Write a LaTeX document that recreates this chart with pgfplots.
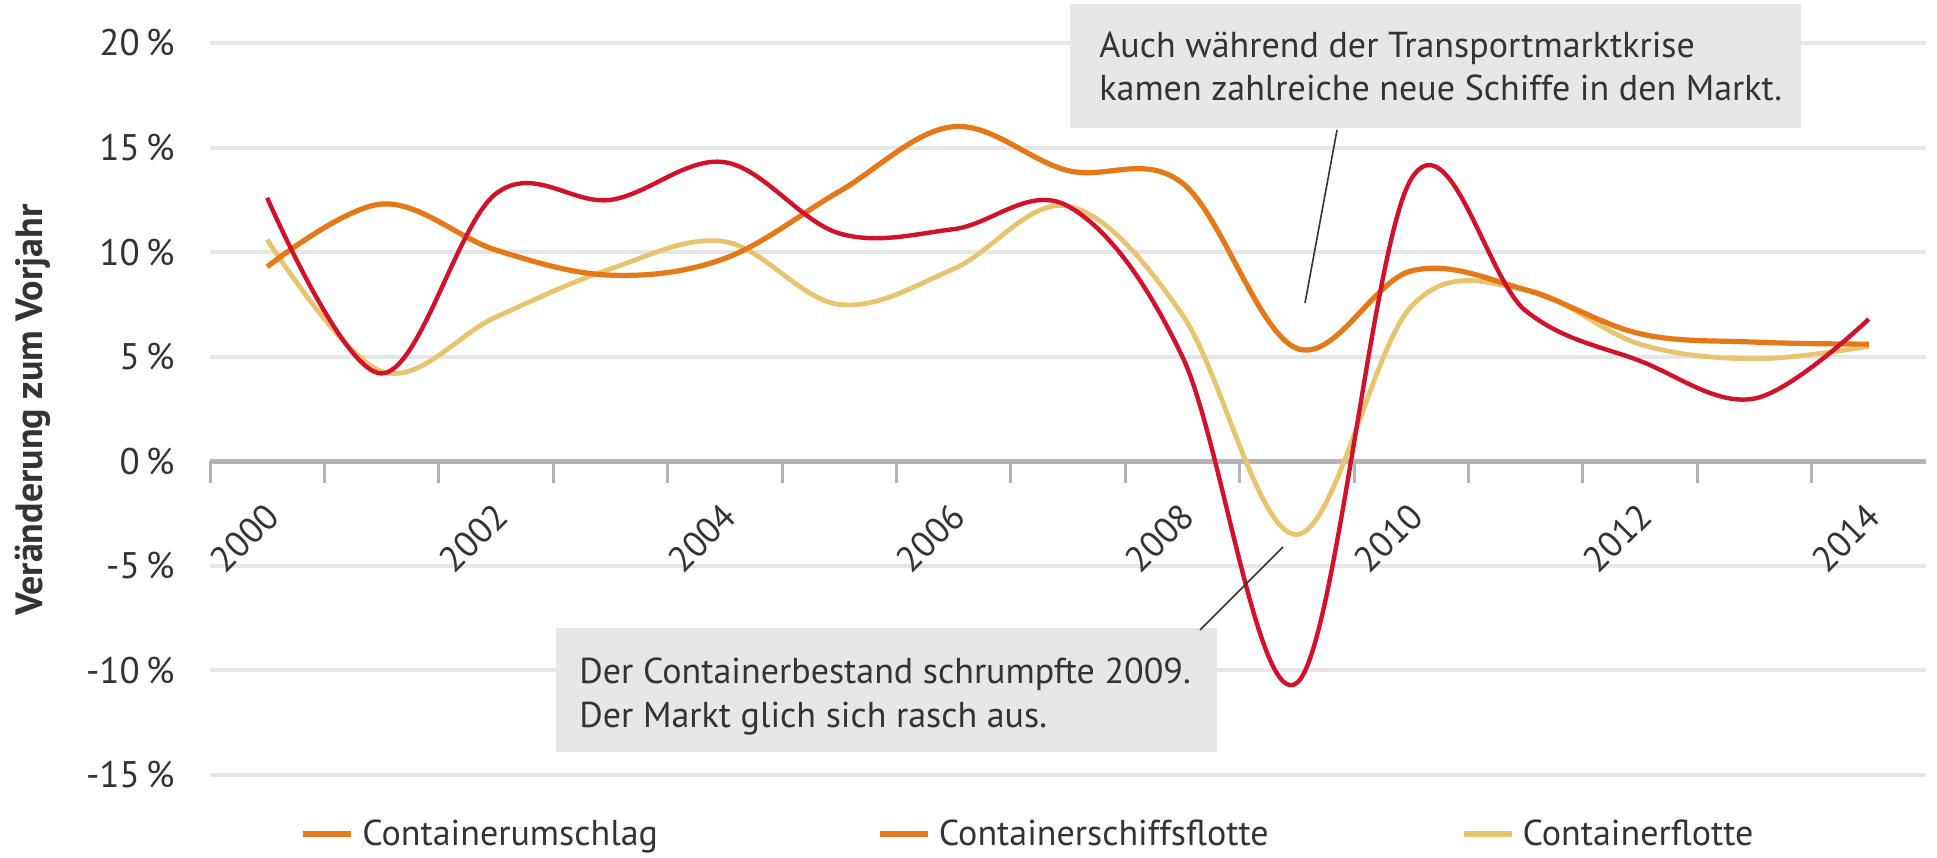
\documentclass[border=0pt]{standalone}
\usepackage{pgfplots}
\pgfplotsset{compat=1.18}
\usepackage{pgfplotstable}
\usepackage{fontspec}
\setmainfont{PT Sans}
\definecolor{cRed}{HTML}{D3112B}
\definecolor{cOrange}{HTML}{E77817}
\definecolor{cYellow}{HTML}{E8C46E}
\definecolor{cGrid}{HTML}{E6E6E6}
\definecolor{cAxis}{HTML}{B4B4B4}
\definecolor{cText}{HTML}{333333}
\definecolor{cBox}{HTML}{E7E7E7}

\pgfplotstableread{
year umschlag schiffsflotte flotte
2000 12.6 9.3 10.6
2001 4.2 12.3 4.3
2002 12.8 10.1 6.9
2003 12.5 8.9 9.2
2004 14.3 9.7 10.5
2005 10.9 12.9 7.5
2006 11.1 16.0 9.2
2007 12.2 13.9 12.2
2008 5.0 13.3 7.0
2009 -10.6 5.4 -3.5
2010 13.5 9.1 7.4
2011 7.2 8.2 8.2
2012 4.8 6.1 5.6
2013 3.0 5.7 4.9
2014 6.8 5.6 5.5
}\datatable

\begin{document}
\begin{tikzpicture}[x=0.5pt,y=-0.5pt]
\useasboundingbox (0,0) rectangle (1937,857);
\begin{axis}[
  at={(105pt,-387.5pt)}, anchor=south west,
  scale only axis, width=858pt, height=366pt,
  xmin=1999.5, xmax=2014.5, ymin=-15, ymax=20,
  axis x line=middle, axis y line=left,
  x axis line style={cAxis, line width=2.5pt, -},
  y axis line style={draw=none},
  ytick={-15,-10,-5,0,5,10,15,20},
  yticklabels={-15\,\%,-10\,\%,-5\,\%,0\,\%,5\,\%,10\,\%,15\,\%,20\,\%},
  ymajorgrids, grid style={cGrid, line width=2pt},
  ytick style={draw=none},
  xtick={2000,2002,2004,2006,2008,2010,2012,2014},
  xticklabels={2000,2002,2004,2006,2008,2010,2012,2014},
  major x tick style={draw=none},
  minor xtick={1999.5,2000.5,2001.5,2002.5,2003.5,2004.5,2005.5,2006.5,2007.5,2008.5,2009.5,2010.5,2011.5,2012.5,2013.5},
  minor x tick style={cAxis, line width=1.5pt},
  minor tick length=11pt,
  tick align=outside,
  xticklabel style={rotate=45, anchor=north east, font=\fontsize{18}{20}\selectfont, text=cText, yshift=-6pt, xshift=-9pt},
  yticklabel style={font=\fontsize{18.5}{20}\selectfont, text=cText, xshift=-10pt},
  legend style={at={(0.0524,-0.0806)}, anchor=west, draw=none, fill=none, inner sep=0pt,
    font=\fontsize{18}{20}\selectfont, text=cText,
    nodes={inner sep=0pt},
    /tikz/every odd column/.append style={column sep=4pt},
    /tikz/column 2/.style={column sep=109.5pt},
    /tikz/column 4/.style={column sep=96pt}},
  legend columns=3,
  legend cell align=left,
  legend image code/.code={\draw[#1, line width=3pt] (0pt,0pt) -- (24pt,0pt);},
]
\addlegendimage{cOrange}
\addlegendentry{Containerumschlag}
\addlegendimage{cOrange}
\addlegendentry{Containerschiffsflotte}
\addlegendimage{cYellow}
\addlegendentry{Containerflotte}
\addplot[cYellow, line width=2.4pt, smooth, tension=0.6, forget plot] table[x=year, y=flotte] {\datatable};
\addplot[cOrange, line width=2.6pt, smooth, tension=0.6, forget plot] table[x=year, y=schiffsflotte] {\datatable};
\addplot[cRed, line width=2.2pt, smooth, tension=0.6, forget plot] table[x=year, y=umschlag] {\datatable};
\end{axis}
% annotations
\fill[cBox] (1070,4) rectangle (1801,128);
\node[anchor=base west, text=cText, font=\fontsize{18}{21}\selectfont, inner sep=0pt] at (1099,57) {Auch während der Transportmarktkrise};
\node[anchor=base west, text=cText, font=\fontsize{18}{21}\selectfont, inner sep=0pt] at (1099,100) {kamen zahlreiche neue Schiffe in den Markt.};
\draw[cText, line width=0.8pt] (1337,130) -- (1305,303);
\fill[cBox] (556,628) rectangle (1217,752);
\node[anchor=base west, text=cText, font=\fontsize{18}{21}\selectfont, inner sep=0pt] at (579,683) {Der Containerbestand schrumpfte 2009.};
\node[anchor=base west, text=cText, font=\fontsize{18}{21}\selectfont, inner sep=0pt] at (579,727) {Der Markt glich sich rasch aus.};
\draw[cText, line width=0.8pt] (1200,630) -- (1283,547);
\node[rotate=90, font=\bfseries\fontsize{19}{22}\selectfont, text=cText] at (33,410) {Veränderung zum Vorjahr};
\end{tikzpicture}
\end{document}
